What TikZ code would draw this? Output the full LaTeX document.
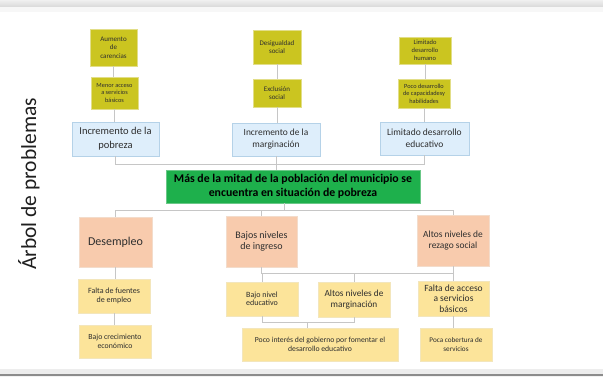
\documentclass[tikz,border=0pt]{standalone}
\usepackage{fontspec}
\setmainfont{Carlito}
\definecolor{olivef}{HTML}{CBC520}
\definecolor{oliveb}{HTML}{E2DE88}
\definecolor{bluef}{HTML}{DEEEFB}
\definecolor{blueb}{HTML}{B5D2E8}
\definecolor{greenf}{HTML}{1EB04C}
\definecolor{greenb}{HTML}{6BC888}
\definecolor{salmf}{HTML}{F8CBAD}
\definecolor{salmb}{HTML}{F3DCCB}
\definecolor{yelf}{HTML}{FCE49A}
\definecolor{yelb}{HTML}{F3E6BC}
\definecolor{txt}{HTML}{2E2E2E}
\definecolor{conn}{HTML}{C6C6C6}
\newcommand\fsz[2]{\fontsize{#1}{#2}\selectfont}
\begin{document}
\begin{tikzpicture}[x=1pt,y=-1pt,
  box/.style={rectangle, inner sep=1pt, align=center, text=txt, line width=0.7pt},
  olivebox/.style={box, fill=olivef, draw=oliveb},
  bluebox/.style={box, fill=bluef, draw=blueb},
  greenbox/.style={box, fill=greenf, draw=greenb, text=black},
  salmbox/.style={box, fill=salmf, draw=salmb},
  yelbox/.style={box, fill=yelf, draw=yelb},
  link/.style={draw=conn, line width=0.8pt}]
\useasboundingbox (0,0) rectangle (603,377);
\fill[white] (0,0) rectangle (603,377);
\shade[top color=black!6, bottom color=black!15] (0,0) rectangle (603,7);
\fill[black!3] (0,7) rectangle (603,12);
\fill[black!7] (0,369) rectangle (603,374);
\fill[black!45] (0,374) rectangle (603,376);
\fill[black!5] (0,376) rectangle (603,377);

\node[rotate=90, text=black!88, font=\fsz{21.5}{24}] (title) at (29,184) {Árbol de problemas};

% top causes
\node[olivebox, minimum width=47pt, minimum height=37pt, font=\fsz{7}{8.7}] (a1) at (113.5,47.5) {Aumento\\de\\carencias};
\node[olivebox, minimum width=47pt, minimum height=32pt, font=\fsz{6.3}{7.5}] (a2) at (114.5,93) {Menor acceso\\a servicios\\básicos};
\node[bluebox, minimum width=87pt, minimum height=34pt, font=\fsz{10.5}{14}] (a3) at (115.5,139) {Incremento de la\\pobreza};

\node[olivebox, minimum width=48pt, minimum height=34pt, font=\fsz{7}{8.7}] (b1) at (277,47) {Desigualdad\\social};
\node[olivebox, minimum width=48pt, minimum height=28pt, font=\fsz{7}{8.7}] (b2) at (277,93) {Exclusión\\social};
\node[bluebox, minimum width=88pt, minimum height=33pt, font=\fsz{9.4}{12}] (b3) at (276,139.5) {Incremento de la\\marginación};

\node[olivebox, minimum width=52pt, minimum height=27pt, font=\fsz{6.5}{8}] (c1) at (425,50.5) {Limitado\\desarrollo\\humano};
\node[olivebox, minimum width=52pt, minimum height=29pt, font=\fsz{6.3}{7.5}] (c2) at (424,93.5) {Poco desarrollo\\de capacidadesy\\habilidades};
\node[bluebox, minimum width=89pt, minimum height=33pt, font=\fsz{9.5}{11.7}] (c3) at (424.5,138.5) {Limitado desarrollo\\educativo};

% main problem
\node[greenbox, minimum width=254pt, minimum height=33pt, font=\bfseries\fsz{11.8}{14}] (main) at (293,186.5) {Más de la mitad de la población del municipio se\\encuentra en situación de pobreza};

% effects
\node[salmbox, minimum width=73pt, minimum height=50pt, font=\fsz{12}{14}] (d1) at (115.5,242) {Desempleo};
\node[salmbox, minimum width=71pt, minimum height=51pt, font=\fsz{10}{11.3}] (d2) at (261.5,241.5) {Bajos niveles\\de ingreso};
\node[salmbox, minimum width=72pt, minimum height=51pt, font=\fsz{9.4}{11}] (d3) at (453,240.5) {Altos niveles de\\rezago social};

\node[yelbox, minimum width=72pt, minimum height=34pt, font=\fsz{8}{9}] (e1) at (114,296) {Falta de fuentes\\de empleo};
\node[yelbox, minimum width=72pt, minimum height=33pt, font=\fsz{7.8}{9}] (e2) at (115,341.5) {Bajo crecimiento\\económico};

\node[yelbox, minimum width=72pt, minimum height=34pt, font=\fsz{8}{8.5}] (f1) at (262,299) {Bajo nivel\\educativo};
\node[yelbox, minimum width=72pt, minimum height=35pt, font=\fsz{9.3}{11.7}] (f2) at (354,299.5) {Altos niveles de\\marginación};
\node[yelbox, minimum width=71pt, minimum height=35pt, font=\fsz{9.5}{10.5}] (f3) at (453.5,298.5) {Falta de acceso\\a servicios\\básicos};

\node[yelbox, minimum width=156pt, minimum height=33pt, font=\fsz{7.7}{9}] (g1) at (320,344.5) {Poco interés del gobierno por fomentar el\\desarrollo educativo};
\node[yelbox, minimum width=72pt, minimum height=33pt, font=\fsz{7.2}{9}] (g2) at (456,344.5) {Poca cobertura de\\servicios};

% junction coordinates
\coordinate (jt) at (0,164);
\coordinate (jm) at (284,210);
\coordinate (jb) at (0,273);
\coordinate (jc) at (307,322);

% connectors
\begin{scope}[on background layer/.style={}]
\path[link] (a1.south) -- (a1.south |- a2.north);
\path[link] (a2.south) -- (a2.south |- a3.north);
\path[link] (b1.south) -- (b1.south |- b2.north);
\path[link] (b2.south) -- (b2.south |- b3.north);
\path[link] (c1.south) -- (c1.south |- c2.north);
\path[link] (c2.south) -- (c2.south |- c3.north);
\path[link] (a3.south) -- (a3.south |- jt) -- (c3.south |- jt) -- (c3.south);
\path[link] (b3.south) -- (b3.south |- main.north);
\path[link] (main.south -| jm) -- (jm);
\path[link] (d1.north) -- (d1.north |- jm) -- (d3.north |- jm) -- (d3.north);
\path[link] (d2.north) -- (d2.north |- jm);
\path[link] (d1.south) -- (d1.south |- e1.north);
\path[link] (e1.south) -- (e1.south |- e2.north);
\path[link] (d2.south) -- (d2.south |- jb) -- (d3.south |- jb);
\path[link] (d3.south) -- (d3.south |- f3.north);
\path[link] (f1.north) -- (f1.north |- jb);
\path[link] (f2.north) -- (f2.north |- jb);
\path[link] (f1.south) -- (f1.south |- jc) -- (f2.south |- jc) -- (f2.south);
\path[link] (jc) -- (jc |- g1.north);
\path[link] (f3.south) -- (f3.south |- g2.north);
\end{scope}
\end{tikzpicture}
\end{document}
